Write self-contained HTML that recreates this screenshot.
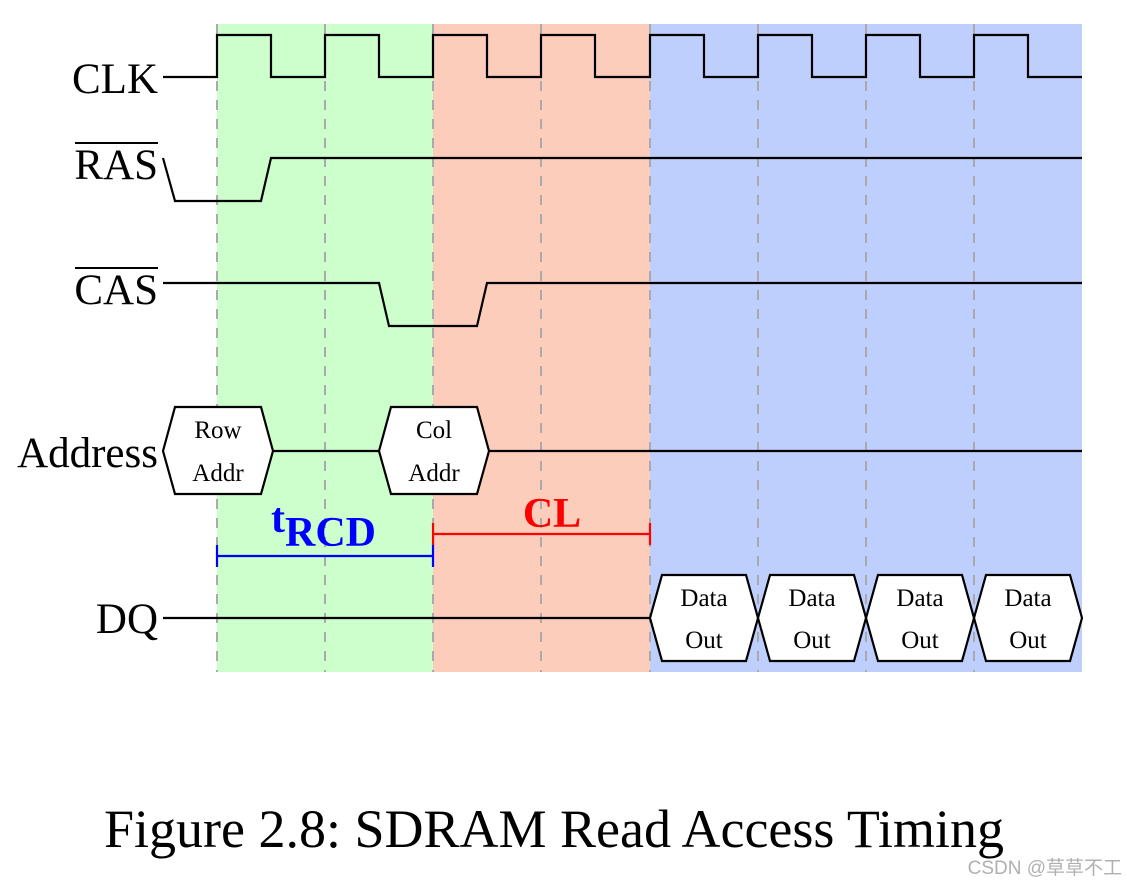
<!DOCTYPE html>
<html><head><meta charset="utf-8"><style>body{margin:0;background:#fff}svg{display:block}</style></head><body>
<svg width="1127" height="887" viewBox="0 0 1127 887" xmlns="http://www.w3.org/2000/svg" font-family="Liberation Serif, serif">
<rect x="217" y="24" width="216" height="648" fill="#ccffcc"/>
<rect x="433" y="24" width="217" height="648" fill="#fdcdbb"/>
<rect x="650" y="24" width="432" height="648" fill="#bfcffd"/>
<g stroke="#aaa" stroke-width="2" stroke-dasharray="10,9">
<line x1="217" y1="24" x2="217" y2="672"/><line x1="325" y1="24" x2="325" y2="672"/><line x1="433" y1="24" x2="433" y2="672"/><line x1="541" y1="24" x2="541" y2="672"/><line x1="650" y1="24" x2="650" y2="672"/><line x1="758" y1="24" x2="758" y2="672"/><line x1="866" y1="24" x2="866" y2="672"/><line x1="974" y1="24" x2="974" y2="672"/>
</g>
<g fill="none" stroke="#000" stroke-width="2.2">
<polyline points="163,77 217,77 217,35 271,35 271,77 325,77 325,35 379,35 379,77 433,77 433,35 487,35 487,77 541,77 541,35 595,35 595,77 650,77 650,35 704,35 704,77 758,77 758,35 812,35 812,77 866,77 866,35 920,35 920,77 974,77 974,35 1028,35 1028,77 1082,77"/>
<polyline points="163,158 175,201 261,201 271,158 1082,158"/>
<polyline points="163,283 379,283 389,326 477,326 487,283 1082,283"/>
<polygon points="163,451 175,407 261,407 273,451 261,494 175,494" fill="#fff"/>
<line x1="273" y1="451" x2="379" y2="451"/>
<polygon points="379,451 391,407 477,407 489,451 477,494 391,494" fill="#fff"/>
<line x1="489" y1="451" x2="1082" y2="451"/>
<line x1="163" y1="618" x2="650" y2="618"/>
<polygon points="650,618 662,575 746,575 758,618 746,661 662,661" fill="#fff"/>
<polygon points="758,618 770,575 854,575 866,618 854,661 770,661" fill="#fff"/>
<polygon points="866,618 878,575 962,575 974,618 962,661 878,661" fill="#fff"/>
<polygon points="974,618 986,575 1070,575 1082,618 1070,661 986,661" fill="#fff"/>
</g>
<g stroke="#0000ff" stroke-width="2.2"><line x1="217" y1="556" x2="433" y2="556"/><line x1="217" y1="545" x2="217" y2="567"/><line x1="433" y1="545" x2="433" y2="567"/></g>
<g stroke="#ff0000" stroke-width="2.2"><line x1="433" y1="534" x2="650" y2="534"/><line x1="433" y1="523" x2="433" y2="545"/><line x1="650" y1="523" x2="650" y2="545"/></g>
<g font-size="43" fill="#000" text-anchor="end">
<text x="158" y="93">CLK</text>
<text x="158" y="179">RAS</text>
<text x="158" y="304">CAS</text>
<text x="158" y="467">Address</text>
<text x="158" y="633">DQ</text>
</g>
<line x1="75" y1="143" x2="158" y2="143" stroke="#000" stroke-width="2"/>
<line x1="75" y1="268" x2="158" y2="268" stroke="#000" stroke-width="2"/>
<g font-size="25" text-anchor="middle" fill="#000">
<text x="218" y="438">Row</text><text x="218" y="481">Addr</text>
<text x="434" y="438">Col</text><text x="434" y="481">Addr</text>
<text x="704" y="606">Data</text><text x="704" y="648">Out</text>
<text x="812" y="606">Data</text><text x="812" y="648">Out</text>
<text x="920" y="606">Data</text><text x="920" y="648">Out</text>
<text x="1028" y="606">Data</text><text x="1028" y="648">Out</text>
</g>
<text x="271" y="532" font-size="42" font-weight="bold" fill="#0000ff">t<tspan dy="14">RCD</tspan></text>
<text x="552" y="527" font-size="42" font-weight="bold" fill="#ff0000" text-anchor="middle">CL</text>
<text x="554" y="847" font-size="54" text-anchor="middle" fill="#000">Figure 2.8: SDRAM Read Access Timing</text>
<text x="1122" y="874" font-size="19" text-anchor="end" fill="#b0b0b0" font-family="Liberation Sans, Noto Sans CJK SC, sans-serif">CSDN @草草不工</text>
</svg>
</body></html>
